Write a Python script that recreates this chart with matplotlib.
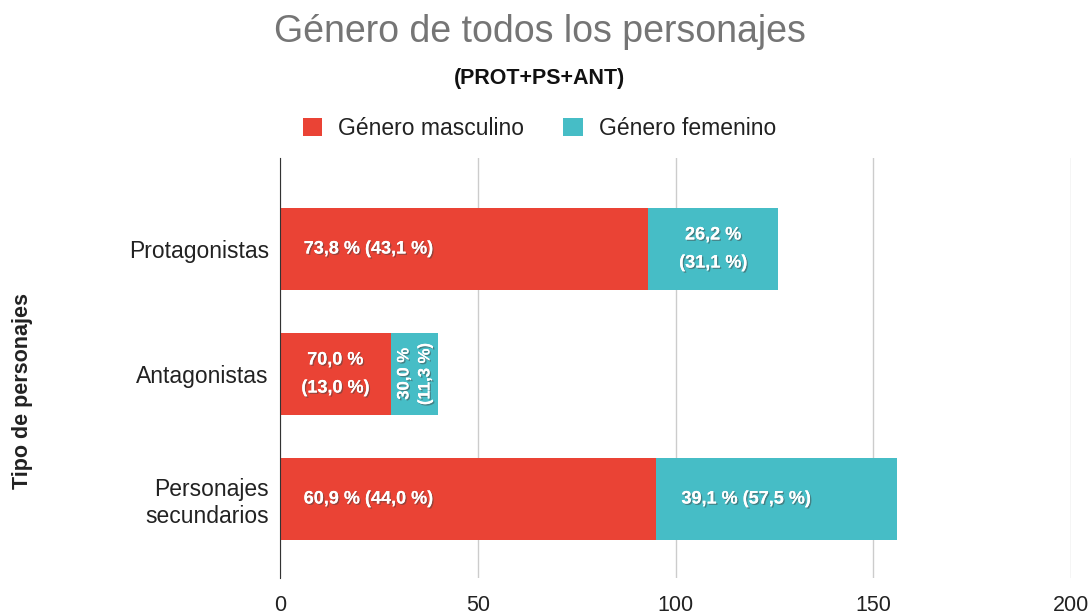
import matplotlib.pyplot as plt
import matplotlib.patheffects as pe

plt.rcParams['font.family'] = ['Liberation Sans', 'DejaVu Sans']

# data
categorias = ['Protagonistas', 'Antagonistas', 'Personajes\nsecundarios']
masculino = [93, 28, 95]
femenino = [33, 12, 61]
etiq_masc = ['73,8 % (43,1 %)', '70,0 %\n(13,0 %)', '60,9 % (44,0 %)']
etiq_fem = ['26,2 %\n(31,1 %)', '30,0 %\n(11,3 %)', '39,1 % (57,5 %)']
xticks = [0, 50, 100, 150, 200]

rojo = '#EA4335'
turquesa = '#46BDC6'

fig = plt.figure(figsize=(10.92, 6.16), dpi=100)
ax = fig.add_axes([0.2564, 0.0617, 0.7244, 0.6818])

ypos = [2, 1, 0]
ax.barh(ypos, masculino, height=0.66, color=rojo, label='Género masculino', zorder=3)
ax.barh(ypos, femenino, left=masculino, height=0.66, color=turquesa,
        label='Género femenino', zorder=3)

sombra = [pe.withSimplePatchShadow(offset=(1, -1), shadow_rgbFace='#444444', alpha=0.5),
          pe.Normal()]
kw = dict(color='white', fontweight='bold', fontsize=13, zorder=5,
          path_effects=sombra, linespacing=1.85, va='center')

# etiquetas masculino
ax.text(6, ypos[0], etiq_masc[0], ha='left', **kw)
ax.text(masculino[1] / 2, ypos[1], etiq_masc[1], ha='center', **kw)
ax.text(6, ypos[2], etiq_masc[2], ha='left', **kw)
# etiquetas femenino
ax.text(masculino[0] + femenino[0] / 2, ypos[0], etiq_fem[0], ha='center', **kw)
ax.text(masculino[1] + femenino[1] / 2, ypos[1], etiq_fem[1], ha='center',
        rotation=90, rotation_mode='anchor', **{**kw, 'fontsize': 12, 'linespacing': 1.5})
ax.text(masculino[2] + 6.5, ypos[2], etiq_fem[2], ha='left', **kw)

ax.set_xlim(0, 200)
ax.set_ylim(-0.632, 2.728)
ax.set_yticks(ypos)
ax.set_yticklabels(categorias, fontsize=16.5, color='#222222')
ax.set_xticks(xticks)
ax.set_xticklabels([str(x) for x in xticks], fontsize=15.5, color='#222222')
ax.tick_params(length=0, pad=8)
ax.tick_params(axis='x', pad=12)
ax.grid(axis='x', color='#cccccc', linewidth=1, zorder=0)
for s in ['top', 'right', 'bottom']:
    ax.spines[s].set_visible(False)
ax.spines['left'].set_color('#333333')
ax.spines['left'].set_zorder(4)

fig.text(0.0202, 0.365, 'Tipo de personajes', rotation=90, ha='center', va='center',
         fontsize=15.5, fontweight='bold', color='#222222')

fig.text(0.494, 0.948, 'Género de todos los personajes', ha='center', va='center',
         fontsize=27, color='#757575')
fig.text(0.494, 0.873, '(PROT+PS+ANT)', ha='center', va='center',
         fontsize=15.5, fontweight='bold', color='#111111')

fig.legend(loc='center', bbox_to_anchor=(0.494, 0.792), ncol=2, frameon=False,
           fontsize=16.5, handlelength=0.85, handleheight=0.85, columnspacing=1.7,
           handletextpad=0.7, labelcolor='#222222')

fig.savefig('out.png', dpi=100)
